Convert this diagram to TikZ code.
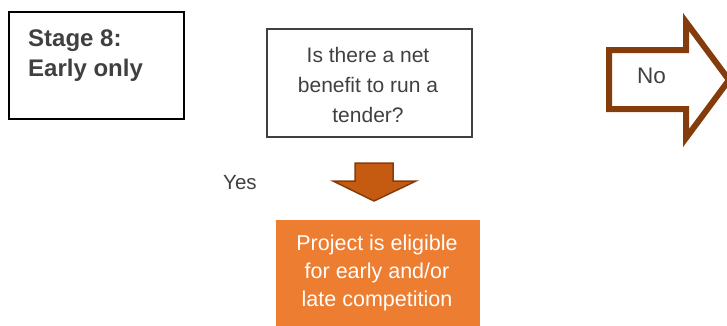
\documentclass[tikz,border=0pt]{standalone}
\usepackage{fontspec}
\setmainfont{Liberation Sans}
\usetikzlibrary{shapes}
\definecolor{txtgrey}{HTML}{404040}
\definecolor{orangefill}{HTML}{ED7D31}
\definecolor{arrowfill}{HTML}{C55A11}
\definecolor{arrowline}{HTML}{843C0C}

\begin{document}
\begin{tikzpicture}[x=1pt,y=-1pt]
	\tikzstyle{BOX} = [rectangle, line width=2pt, inner sep=0pt, anchor=north west]
	\tikzstyle{STAGE} = [BOX, draw=black, minimum width=175pt, minimum height=107pt]
	\tikzstyle{QUESTION} = [BOX, draw=txtgrey, minimum width=205pt, minimum height=108pt]
	\tikzstyle{RESULT} = [BOX, fill=orangefill, minimum width=204pt, minimum height=112pt]
	\tikzstyle{TXT} = [inner sep=0pt, text=txtgrey, font=\fontsize{21}{30}\selectfont]
	\tikzstyle{BLOCKARROW} = [line join=miter]

	\useasboundingbox (0,0) rectangle (727,325);

	\node[STAGE] (STAGE) at (8,11) {};
	\node[TXT, anchor=north west, align=left, font=\fontsize{24}{30}\selectfont\bfseries] (STAGETXT) at (28,30) {Stage 8:\\Early only};

	\node[QUESTION] (Q) at (266,28) {};
	\node[TXT, align=center] (QTXT) at (368,85) {Is there a net\\benefit to run a\\tender?};

	\node[RESULT] (RES) at (275,219) {};
	\node[TXT, text=white, align=center, font=\fontsize{21.5}{28}\selectfont] (RESTXT) at (377,273) {Project is eligible\\for early and/or\\late competition};

	\node[TXT, anchor=base west, font=\fontsize{20.5}{30}\selectfont] (YES) at (223,189) {Yes};
	\draw[BLOCKARROW, fill=arrowfill, draw=arrowline, line width=1.5pt]
		(355,163) -- (393,163) -- (393,181) -- (416,181) -- (374,201) -- (333,181) -- (355,181) -- cycle;

	\draw[BLOCKARROW, draw=arrowline, line width=6pt]
		(609,50) -- (686,50) -- (686,22) -- (729,80) -- (686,138) -- (686,109) -- (609,109) -- cycle;
	\node[TXT, anchor=base west, font=\fontsize{22.5}{30}\selectfont] (NO) at (637,83) {No};
\end{tikzpicture}
\end{document}
